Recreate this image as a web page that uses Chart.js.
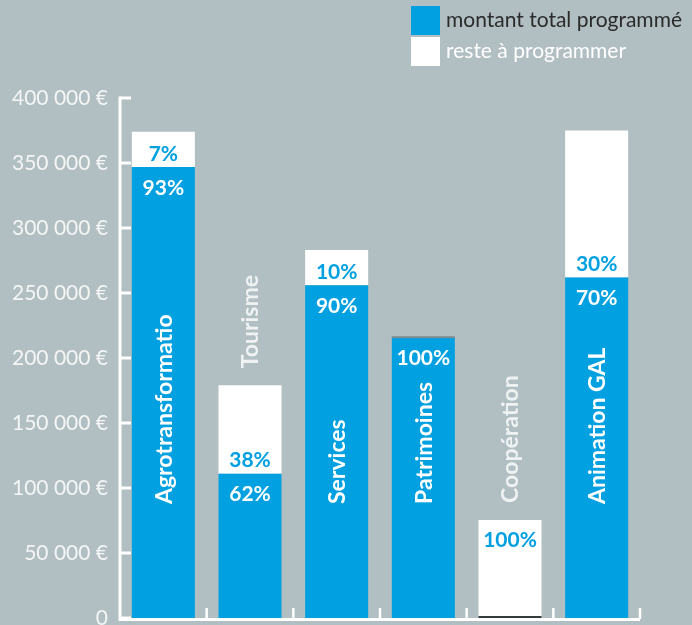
<!DOCTYPE html>
<html lang="fr">
<head>
<meta charset="utf-8">
<script src="https://cdn.jsdelivr.net/npm/chart.js@4"></script>
<style>
  html, body { margin: 0; padding: 0; overflow: hidden; background: #b1bec2; }
  body { width: 692px; height: 625px; position: relative; font-family: Lato, "Open Sans", sans-serif; }
  #wrap { position: absolute; left: 0; top: 0; width: 692px; height: 640px; }
  .legend { position: absolute; left: 411px; font-size: 21px; }
  .legend .sw { position: absolute; left: 0; width: 29px; height: 29px; }
  .legend span { position: absolute; left: 35px; top: 0px; white-space: nowrap; }
</style>
</head>
<body>
<div id="wrap"><canvas id="chart"></canvas></div>
<div class="legend" style="top:6px"><div class="sw" style="background:#00a0e1"></div><span style="color:#2b2b2b">montant total programmé</span></div>
<div class="legend" style="top:37px"><div class="sw" style="background:#ffffff"></div><span style="color:#ffffff">reste à programmer</span></div>
<script>
// budget par axe - montant programmé / reste à programmer

const categories = ["Agrotransformatio", "Tourisme", "Services", "Patrimoines", "Coopération", "Animation GAL"];
const programme = [347000, 111000, 256000, 216000, 0, 262000];
const reste = [27000, 68000, 27000, 0, 75400, 113000];
const pctProgramme = ["93%", "62%", "90%", "100%", "", "70%"];
const pctReste = ["7%", "38%", "10%", "", "100%", "30%"];
const yTicks = [0, 50000, 100000, 150000, 200000, 250000, 300000, 350000, 400000];

const BLUE = "#00a0e1";
const WHITE = "#ffffff";
const AXIS = "#ffffff";

function euro(v) {
  if (v === 0) return "0";
  return String(v).replace(/\B(?=(\d{3})+(?!\d))/g, " ") + " €";
}

// axes drawn by hand so the ticks point inward like the original
const axesPlugin = {
  id: "axes",
  beforeDatasetsDraw(chart) {
    const { ctx, chartArea, scales } = chart;
    const x = scales.x, y = scales.y;
    ctx.save();
    ctx.strokeStyle = AXIS;
    ctx.lineWidth = 3;
    ctx.beginPath();
    ctx.moveTo(chartArea.left, y.getPixelForValue(400000) - 1.5);
    ctx.lineTo(chartArea.left, chartArea.bottom + 1.5);
    ctx.lineTo(chartArea.right, chartArea.bottom + 1.5);
    ctx.stroke();
    yTicks.forEach(v => {
      const py = y.getPixelForValue(v);
      ctx.beginPath();
      ctx.moveTo(chartArea.left, py);
      ctx.lineTo(chartArea.left + 11, py);
      ctx.stroke();
    });
    ctx.lineWidth = 2.5;
    const half = (x.getPixelForValue(1) - x.getPixelForValue(0)) / 2;
    categories.forEach((c, i) => {
      const px = x.getPixelForValue(i) + half;
      ctx.beginPath();
      ctx.moveTo(px, chartArea.bottom + 1);
      ctx.lineTo(px, chartArea.bottom - 10);
      ctx.stroke();
    });
    ctx.restore();
  }
};

const labelsPlugin = {
  id: "barLabels",
  afterDatasetsDraw(chart) {
    const { ctx, scales } = chart;
    const x = scales.x, y = scales.y;
    const base = y.getPixelForValue(0);
    const meta = chart.getDatasetMeta(0);
    ctx.save();
    // thin edges left by empty segments
    categories.forEach((c, i) => {
      const w = meta.data[i].width || 63;
      const px = x.getPixelForValue(i);
      if (reste[i] === 0) {
        ctx.fillStyle = "#7f8d92";
        ctx.fillRect(px - w / 2, y.getPixelForValue(programme[i]) - 1, w, 2);
      }
      if (programme[i] === 0) {
        ctx.fillStyle = "#333b3e";
        ctx.fillRect(px - w / 2, base - 2, w, 2);
      }
    });
    ctx.textAlign = "center";
    ctx.textBaseline = "middle";
    ctx.font = "bold 21px Lato, sans-serif";
    categories.forEach((c, i) => {
      const px = x.getPixelForValue(i);
      const blueTop = y.getPixelForValue(programme[i]);
      const top = y.getPixelForValue(programme[i] + reste[i]);
      if (pctProgramme[i]) {
        ctx.fillStyle = WHITE;
        ctx.fillText(pctProgramme[i], px, blueTop + 21);
      }
      if (pctReste[i]) {
        ctx.fillStyle = BLUE;
        const py = programme[i] > 0 ? blueTop - 13 : top + 20;
        ctx.fillText(pctReste[i], px, py);
      }
    });
    // category names, rotated
    ctx.textAlign = "left";
    ctx.font = "bold 23px Lato, sans-serif";
    categories.forEach((c, i) => {
      const px = x.getPixelForValue(i);
      const inside = programme[i] > 0 && base - y.getPixelForValue(programme[i]) > 150;
      const top = y.getPixelForValue(programme[i] + reste[i]);
      ctx.save();
      if (inside) {
        ctx.translate(px + 1, base - 114);
        ctx.fillStyle = WHITE;
      } else {
        ctx.translate(px + 1, top - 17);
        ctx.fillStyle = "#eef2f3";
      }
      ctx.rotate(-Math.PI / 2);
      ctx.fillText(c, 0, 0);
      ctx.restore();
    });
    ctx.restore();
  }
};

new Chart(document.getElementById("chart"), {
  type: "bar",
  data: {
    labels: categories,
    datasets: [
      { label: "montant total programmé", data: programme, backgroundColor: BLUE, barPercentage: 0.727, categoryPercentage: 1 },
      { label: "reste à programmer", data: reste, backgroundColor: WHITE, barPercentage: 0.727, categoryPercentage: 1 }
    ]
  },
  options: {
    responsive: true,
    maintainAspectRatio: false,
    animation: false,
    layout: { padding: { top: 98, right: 52, bottom: 22, left: 0 } },
    plugins: { legend: { display: false }, tooltip: { enabled: false } },
    scales: {
      x: { stacked: true, display: false },
      y: {
        stacked: true,
        min: 0,
        max: 400000,
        afterBuildTicks: (s) => { s.ticks = yTicks.map(v => ({ value: v })); },
        afterFit: (s) => { s.width = 120; },
        grid: { display: false },
        border: { display: false },
        ticks: {
          padding: 4,
          color: "#f4f6f6",
          font: { family: "Lato", size: 21 },
          callback: (v) => euro(v)
        }
      }
    }
  },
  plugins: [axesPlugin, labelsPlugin]
});
</script>
</body>
</html>
